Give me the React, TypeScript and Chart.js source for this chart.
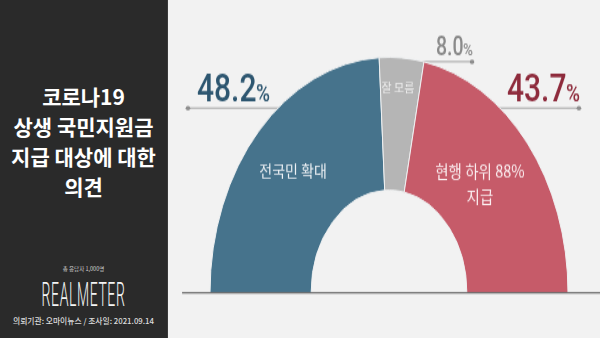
import React, { useEffect, useRef } from 'react';
import { Chart, registerables } from 'chart.js';

Chart.register(...registerables);

// ---- data ----
const categories = ['전국민 확대', '잘 모름', '현행 하위 88% 지급'];
const insideLabels = [['전국민 확대'], ['잘 모름'], ['현행 하위 88%', '지급']];
const values = [48.2, 8.0, 43.7];
const titleLines = ['코로나19', '상생 국민지원금', '지급 대상에 대한', '의견'];
const sampleNote = '총 응답자 1,000명';
const brand = 'REALMETER';
const sourceNote = '의뢰기관: 오마이뉴스 / 조사일: 2021.09.14';

// ---- styles ----
const SY = 1.315; // vertical stretch of the half doughnut
const segColors = ['#46738c', '#b5b5b5', '#c65b69'];
const valueColors = ['#2d5670', '#8a8a8a', '#8e2b3c'];
const insideColors = ['#eef2f5', '#eeeeee', '#fbeef0'];

// label layout relative to arc centre / radius
const leaders = [
  { ly: 0.784, dx: -1.123, align: 'left', big: 30, small: 19 },
  { ly: 0.981, dx: 0.464, align: 'right', big: 19.5, small: 13.5 },
  { ly: 0.784, dx: 1.061, align: 'right', big: 30, small: 19 },
];
const insides = [
  { fx: -0.536, fy: -0.514, size: 14, k: 1.15 },
  { fx: 0.05, fy: -0.871, size: 11, k: 1.1 },
  { fx: 0.508, fy: -0.461, size: 14.5, k: 1.15 },
];

function geom(chart: any) {
  const meta = chart.getDatasetMeta(0);
  const arc = meta && meta.data && meta.data[0];
  if (!arc) return null;
  const p = arc.getProps(['x', 'y', 'outerRadius'], true);
  return { cx: p.x, cy: p.y, R: p.outerRadius };
}

const halfPlugin = {
  id: 'halfLabels',
  beforeDatasetsDraw(chart: any) {
    const g = geom(chart);
    if (!g) return;
    const { cx, cy, R } = g;
    const ctx = chart.ctx;
    ctx.save();
    leaders.forEach((l) => {
      const y = cy - l.ly * R;
      const xd = cx + l.dx * R;
      ctx.strokeStyle = '#a3a3a3';
      ctx.lineWidth = 1;
      ctx.beginPath();
      ctx.moveTo(xd, y);
      ctx.lineTo(cx, y);
      ctx.stroke();
      ctx.save();
      ctx.translate(xd, y);
      ctx.scale(1, 1 / SY);
      ctx.beginPath();
      ctx.arc(0, 0, 2.3, 0, Math.PI * 2);
      ctx.fillStyle = '#8f8f8f';
      ctx.fill();
      ctx.restore();
    });
    ctx.restore();
  },
  afterDatasetsDraw(chart: any) {
    const g = geom(chart);
    if (!g) return;
    const { cx, cy, R } = g;
    const ctx = chart.ctx;
    ctx.save();
    // baseline
    ctx.strokeStyle = '#6f6f6f';
    ctx.lineWidth = 1.3;
    ctx.beginPath();
    ctx.moveTo(cx - 1.156 * R, cy + 0.2);
    ctx.lineTo(chart.width, cy + 0.2);
    ctx.stroke();

    // inside labels
    insides.forEach((s, i) => {
      const lines = insideLabels[i];
      const x = cx + s.fx * R;
      const y = cy + s.fy * R;
      ctx.save();
      ctx.translate(x, y);
      ctx.scale(1, s.k / SY);
      ctx.font = `400 ${s.size}px "Noto Sans CJK KR", "Noto Sans", sans-serif`;
      ctx.fillStyle = insideColors[i];
      ctx.textAlign = 'center';
      ctx.textBaseline = 'middle';
      const lh = 25 / s.k;
      lines.forEach((t, j) => {
        ctx.fillText(t, 0, (j - (lines.length - 1) / 2) * lh);
      });
      ctx.restore();
    });

    // value labels
    leaders.forEach((l, i) => {
      const y = cy - l.ly * R - 5;
      const xd = cx + l.dx * R;
      const num = values[i].toFixed(1);
      ctx.textBaseline = 'alphabetic';
      ctx.textAlign = 'left';
      ctx.font = `500 ${l.big}px Roboto, sans-serif`;
      const w1 = ctx.measureText(num).width;
      ctx.font = `500 ${l.small}px Roboto, sans-serif`;
      const w2 = ctx.measureText('%').width;
      const gap = -0.5;
      const total = w1 + gap + w2;
      const sx = l.align === 'left' ? xd + 9 : xd + 1 - total;
      ctx.fillStyle = valueColors[i];
      ctx.font = `500 ${l.big}px Roboto, sans-serif`;
      ctx.fillText(num, sx, y);
      ctx.font = `500 ${l.small}px Roboto, sans-serif`;
      ctx.fillText('%', sx + w1 + gap, y);
    });
    ctx.restore();
  },
};

function HalfDoughnut() {
  const ref = useRef<HTMLCanvasElement | null>(null);
  useEffect(() => {
    if (!ref.current) return;
    const chart = new Chart(ref.current, {
      type: 'doughnut',
      data: {
        labels: categories,
        datasets: [
          {
            data: values,
            backgroundColor: segColors,
            borderColor: '#eef0f1',
            borderWidth: 1,
            hoverBorderWidth: 1,
            offset: 0,
            hoverOffset: 0,
          },
        ],
      },
      options: {
        responsive: false,
        animation: false,
        rotation: -90,
        circumference: 180,
        cutout: '43.5%',
        layout: { padding: { left: 39.5, right: 31.5, top: 43, bottom: 34 } },
        plugins: {
          legend: { display: false },
          tooltip: { enabled: false },
        },
        events: [],
      },
      plugins: [halfPlugin],
    } as any);
    return () => chart.destroy();
  }, []);
  return <canvas ref={ref} width={430} height={257} />;
}

export default function App() {
  return (
    <div
      style={{
        position: 'fixed',
        left: 0,
        top: 0,
        width: 600,
        height: 338,
        background: '#f2f2f2',
        overflow: 'hidden',
      }}
    >
      <div
        style={{
          position: 'absolute',
          left: 0,
          top: 0,
          width: 167,
          height: 338,
          background: '#2a2a2a',
          borderRight: '1px solid #3a3a3a',
        }}
      >
        <div
          style={{
            position: 'absolute',
            left: 0,
            top: 81,
            width: 167,
            textAlign: 'center',
            color: '#ffffff',
            fontFamily: '"Noto Sans CJK KR", sans-serif',
            fontWeight: 700,
            fontSize: 21,
            lineHeight: '30px',
            whiteSpace: 'nowrap',
          }}
        >
          {titleLines.map((t) => (
            <div key={t}>{t}</div>
          ))}
        </div>
        <div
          style={{
            position: 'absolute',
            left: 0,
            top: 265,
            width: 167,
            textAlign: 'center',
            color: '#cfcfcf',
            fontFamily: '"Noto Sans CJK KR", sans-serif',
            fontSize: 5.5,
            lineHeight: '8px',
          }}
        >
          {sampleNote}
        </div>
        <div
          style={{
            position: 'absolute',
            left: 0,
            top: 285,
            width: 167,
            textAlign: 'center',
            lineHeight: '18px',
          }}
        >
          <span
            style={{
              display: 'inline-block',
              color: '#f4f4f4',
              fontFamily: 'Roboto, sans-serif',
              fontWeight: 300,
              fontSize: 14,
              letterSpacing: '0.6px',
              transform: 'scaleY(2.4)',
              transformOrigin: '50% 50%',
            }}
          >
            {brand}
          </span>
        </div>
        <div
          style={{
            position: 'absolute',
            left: 0,
            top: 315,
            width: 167,
            textAlign: 'center',
            color: '#dcdcdc',
            fontFamily: '"Noto Sans CJK KR", sans-serif',
            fontWeight: 500,
            fontSize: 7.8,
            lineHeight: '12px',
            whiteSpace: 'nowrap',
          }}
        >
          {sourceNote}
        </div>
      </div>
      <div
        style={{
          position: 'absolute',
          left: 170,
          top: 0,
          width: 430,
          height: 257,
          transform: `scaleY(${SY})`,
          transformOrigin: '0 0',
        }}
      >
        <HalfDoughnut />
      </div>
    </div>
  );
}
